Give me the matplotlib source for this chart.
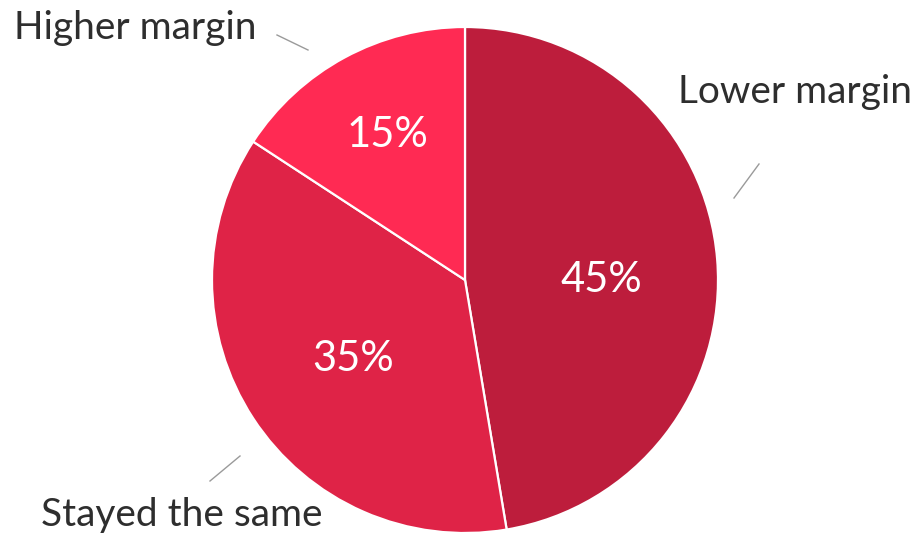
import numpy as np
import matplotlib
matplotlib.use("Agg")
import matplotlib.pyplot as plt

# Share of respondents by change in margin
categories = ["Lower margin", "Stayed the same", "Higher margin"]
shares = [45, 35, 15]
colors = ["#BD1D3C", "#DF2347", "#FF2A53"]

W, H = 919, 534
fig = plt.figure(figsize=(W / 100, H / 100), dpi=100)
ax = fig.add_axes([0, 0, 1, 1])

font = ["Lato", "DejaVu Sans"]
cx, cy, r = 465, H - 280, 253

wedges, _ = ax.pie(
    shares, colors=colors, startangle=90, counterclock=False,
    center=(cx, cy), radius=r, frame=True,
    wedgeprops=dict(edgecolor="white", linewidth=1.6),
)
ax.set_xlim(0, W)
ax.set_ylim(0, H)
ax.set_aspect("equal")
ax.axis("off")

# value labels inside each wedge: (radial fraction, angle nudge in degrees)
inner_pos = [(0.54, -4.7), (0.54, 2.0), (0.65, -0.4)]
for w, v, (d, nudge) in zip(wedges, shares, inner_pos):
    mid = np.deg2rad((w.theta1 + w.theta2) / 2 + nudge)
    ax.text(cx + d * r * np.cos(mid), cy + d * r * np.sin(mid), f"{v}%",
            ha="center", va="center", color="white", fontsize=30,
            family=font)

# category labels with short leader lines
outer = {
    "Lower margin": ((795, 92), ((734, 198), (759, 164))),
    "Stayed the same": ((182, 515), ((210, 481), (240, 456))),
    "Higher margin": ((135, 28), ((277, 35), (308, 50))),
}
for name in categories:
    (tx, ty), ((x0, y0), (x1, y1)) = outer[name]
    ax.text(tx, H - ty, name, ha="center", va="center", color="#2e2e2e",
            fontsize=28, family=font)
    ax.plot([x0, x1], [H - y0, H - y1], color="#9a9a9a", lw=1.0)

fig.savefig("out.png", dpi=100, facecolor="white")
